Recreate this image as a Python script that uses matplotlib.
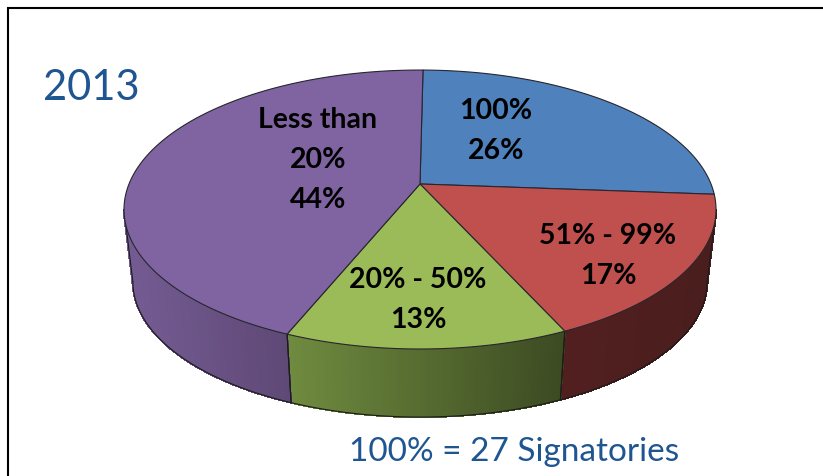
import numpy as np
import matplotlib
matplotlib.use("Agg")
import matplotlib.pyplot as plt
from matplotlib.collections import PolyCollection
from matplotlib.colors import to_rgb

# Share of signatories per band, clockwise from twelve o'clock
bands = ["100%", "51% - 99%", "20% - 50%", "Less than\n20%"]
shares = [26, 17, 13, 44]
top_colors = ["#4f81bd", "#c0504d", "#9bbb59", "#8064a2"]
side_left = ["#3a5f8c", "#521f1f", "#6f8b3f", "#745c93"]
side_right = ["#3a5f8c", "#4a1e1e", "#3c4a22", "#5e4875"]
label_xy = [(496, 131), (608, 256), (418, 300), (318, 160)]
title = "2013"
footnote = "100% = 27 Signatories"

# Perspective model of the pie disc, in pixel units
CX, APEX_Y = 420.0, 184.0
A, B, K = 291.0, 134.8, 0.183
BASE_SCALE, BASE_Y = 0.97, 257.0
START_DEG = 0.7

# The rim is only visible between the two silhouette tangents of the disc
RIM_FROM = np.arccos(-K)
RIM_TO = 2 * np.pi - RIM_FROM


def project(theta, base=False):
    u, v = np.sin(theta), np.cos(theta)
    w = 1 + K * v
    if base:
        return CX + BASE_SCALE * A * u / w, BASE_Y - BASE_SCALE * B * v / w
    return CX + A * u / w, APEX_Y - B * v / w


fig = plt.figure(figsize=(8.23, 4.76), dpi=100)
ax = fig.add_axes([0, 0, 1, 1])
ax.set_xlim(0, 823)
ax.set_ylim(476, 0)
ax.axis("off")

edges = np.deg2rad(START_DEG + np.concatenate([[0], np.cumsum(shares)]) * 3.6)

# Rim of the disc: thin quads shaded from left to right inside each slice
for i in range(len(shares)):
    t0, t1 = edges[i], edges[i + 1]
    lo, hi = max(t0, RIM_FROM), min(t1, RIM_TO)
    if hi <= lo:
        continue
    ts = np.linspace(lo, hi, 90)
    tx, ty = project(ts)
    bx, by = project(ts, base=True)
    quads, cols = [], []
    c_l, c_r = np.array(to_rgb(side_left[i])), np.array(to_rgb(side_right[i]))
    xmin, xmax = min(tx.min(), bx.min()), max(tx.max(), bx.max())
    for j in range(len(ts) - 1):
        quads.append([(tx[j], ty[j]), (tx[j + 1], ty[j + 1]),
                      (bx[j + 1], by[j + 1]), (bx[j], by[j])])
        f = ((tx[j] + tx[j + 1]) / 2 - xmin) / (xmax - xmin)
        cols.append(c_l + (c_r - c_l) * f)
    ax.add_collection(PolyCollection(quads, facecolors=cols, edgecolors=cols,
                                     linewidths=0.8, antialiaseds=False,
                                     zorder=2))
    # Outline: lower arc plus the seams and silhouette edges of the rim
    ax.plot(bx, by, color="#1c1c1c", lw=0.8, zorder=3)
    for t in (lo, hi):
        a = project(t)
        b = project(t, base=True)
        ax.plot([a[0], b[0]], [a[1], b[1]], color="#1c1c1c", lw=0.8, zorder=3)

# Upper face of each slice
for i in range(len(shares)):
    ts = np.linspace(edges[i], edges[i + 1], 200)
    x, y = project(ts)
    ax.fill(np.r_[CX, x], np.r_[APEX_Y, y], facecolor=top_colors[i],
            edgecolor="#26262e", lw=0.8, joinstyle="round", zorder=4)
    value_text = f"{bands[i]}\n{shares[i]}%"
    ax.text(*label_xy[i], value_text, ha="center", va="center", family="Lato",
            fontweight="bold", fontsize=20.5, linespacing=1.65, color="black",
            zorder=5)

# Slide frame: only the left and top rules fall inside the canvas
ax.plot([8, 8, 823], [476, 8, 8], color="black", lw=1.5, zorder=1,
        solid_joinstyle="miter")

ax.text(91, 88, title, ha="center", va="center", family="Lato",
        fontsize=30, color="#1f5590")
ax.text(514, 452, footnote, ha="center", va="center", family="Lato",
        fontsize=24, color="#1f5590")

fig.savefig("out.png", dpi=100)
